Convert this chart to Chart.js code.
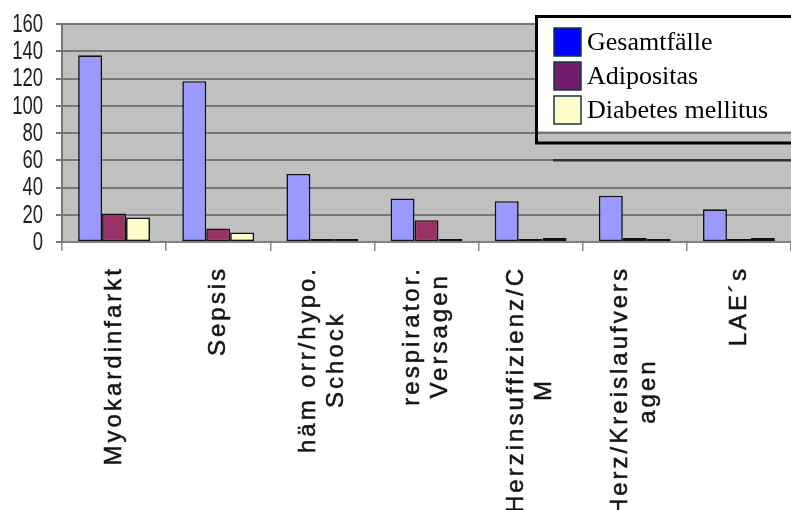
<!DOCTYPE html>
<html lang="de">
<head>
<meta charset="utf-8">
<title>Todesursachen</title>
<script src="https://cdn.jsdelivr.net/npm/chart.js@4.4.1/dist/chart.umd.min.js"></script>
<style>
    html, body { margin: 0; padding: 0; background: #fff; overflow: hidden; }
</style>
</head>
<body>
<canvas id="chart" width="791" height="510"></canvas>
<script>
// categories, one entry per label line
const categories = [
    ['Myokardinfarkt'],
    ['Sepsis'],
    ['häm orr/hypo.', 'Schock'],
    ['respirator.', 'Versagen'],
    ['Herzinsuffizienz/C', 'M'],
    ['Herz/Kreislaufvers', 'agen'],
    ['LAE´s']
];
const seriesNames = ['Gesamtfälle', 'Adipositas', 'Diabetes mellitus'];
const gesamt = [137, 118, 50, 32, 30, 34, 24];
const adipositas = [21, 10, 0, 16, 0, 3, 0];
const diabetes = [18, 7, 0, 0, 3, 0, 3];
const yTicks = [0, 20, 40, 60, 80, 100, 120, 140, 160];

const barColors = ['#9999ff', '#993366', '#ffffcc'];
const legendColors = ['#0000ff', '#731d6e', '#ffffcc'];

// grey plot background
const plotBg = {
    id: 'plotBg',
    beforeDraw(chart) {
        const { ctx, chartArea: a } = chart;
        ctx.save();
        ctx.fillStyle = '#c0c0c0';
        ctx.fillRect(a.left, a.top, a.right - a.left, a.bottom - a.top);
        ctx.restore();
    }
};

// condensed value labels on the y axis
const valueLabels = {
    id: 'valueLabels',
    afterDraw(chart) {
        const ctx = chart.ctx;
        const ys = chart.scales.y;
        ctx.save();
        ctx.font = '25px "Liberation Sans", Arial, sans-serif';
        ctx.fillStyle = '#1e1e1e';
        ctx.textAlign = 'right';
        ctx.textBaseline = 'middle';
        yTicks.forEach(v => {
            ctx.save();
            ctx.translate(43, ys.getPixelForValue(v) + 1);
            ctx.scale(0.74, 1);
            ctx.fillText(String(v), 0, 0);
            ctx.restore();
        });
        ctx.restore();
    }
};

// rotated category labels, lines centred on each other
const catLabels = {
    id: 'catLabels',
    afterDraw(chart) {
        const ctx = chart.ctx;
        const xs = chart.scales.x;
        ctx.save();
        ctx.font = '24px "Liberation Sans", Arial, sans-serif';
        ctx.fillStyle = '#141414';
        ctx.strokeStyle = '#141414';
        ctx.lineWidth = 0.5;
        ctx.letterSpacing = '3px';
        ctx.textAlign = 'center';
        ctx.textBaseline = 'middle';
        categories.forEach((lines, i) => {
            const x = xs.getPixelForValue(i);
            const w = Math.max(...lines.map(l => ctx.measureText(l).width));
            lines.forEach((line, j) => {
                ctx.save();
                ctx.translate(x + (j - (lines.length - 1) / 2) * 28, xs.top + 24 + w / 2);
                ctx.rotate(-Math.PI / 2);
                ctx.fillText(line, 0, 0);
                ctx.strokeText(line, 0, 0);
                ctx.restore();
            });
        });
        ctx.restore();
    }
};

// boxed legend in the upper right corner
const boxLegend = {
    id: 'boxLegend',
    afterDraw(chart) {
        const ctx = chart.ctx;
        const ys = chart.scales.y;
        const left = 535, top = 15, right = chart.width + 40;
        ctx.save();
        // darker stretch of the 60 line under the legend
        const y60 = ys.getPixelForValue(60);
        ctx.strokeStyle = '#303030';
        ctx.lineWidth = 2.5;
        ctx.beginPath();
        ctx.moveTo(left + 18, y60);
        ctx.lineTo(chart.width, y60);
        ctx.stroke();

        ctx.fillStyle = '#fff';
        ctx.fillRect(left, top, right - left, 116);
        ctx.strokeStyle = '#000';
        ctx.lineWidth = 3;
        ctx.beginPath();
        ctx.moveTo(right, top + 1.5);
        ctx.lineTo(left + 1.5, top + 1.5);
        ctx.lineTo(left + 1.5, top + 128);
        ctx.lineTo(right, top + 128);
        ctx.stroke();

        ctx.font = '26px "Liberation Serif", "Times New Roman", serif';
        ctx.textBaseline = 'middle';
        ctx.textAlign = 'left';
        seriesNames.forEach((name, i) => {
            const sy = top + 13 + i * 34;
            ctx.fillStyle = legendColors[i];
            ctx.fillRect(left + 19, sy, 27, 28);
            ctx.strokeStyle = '#1c3344';
            ctx.lineWidth = 1.5;
            ctx.strokeRect(left + 19, sy, 27, 28);
            ctx.fillStyle = '#000';
            ctx.fillText(name, left + 52, sy + 15);
        });
        ctx.restore();
    }
};

const datasets = [gesamt, adipositas, diabetes].map((values, i) => ({
    label: seriesNames[i],
    data: values,
    backgroundColor: barColors[i],
    borderColor: '#111',
    borderWidth: 1.6,
    borderSkipped: false,
    minBarLength: 3,
    categoryPercentage: 0.69,
    barPercentage: 1.0
}));

new Chart(document.getElementById('chart'), {
    type: 'bar',
    data: {
        labels: categories.map(l => l.join(' ')),
        datasets: datasets
    },
    options: {
        responsive: false,
        animation: false,
        devicePixelRatio: 1,
        layout: { padding: { top: 24, right: 0, bottom: 0, left: 0 } },
        plugins: {
            legend: { display: false },
            tooltip: { enabled: false }
        },
        scales: {
            x: {
                grid: {
                    offset: true,
                    drawOnChartArea: false,
                    drawTicks: true,
                    tickLength: 9,
                    color: '#8a8a8a',
                    lineWidth: 1.5
                },
                border: { color: '#808080', width: 2 },
                ticks: { display: false },
                afterFit: s => { s.height = 268; }
            },
            y: {
                min: 0,
                max: 160,
                afterBuildTicks: s => { s.ticks = yTicks.map(v => ({ value: v })); },
                grid: {
                    color: '#777',
                    lineWidth: 2,
                    tickLength: 6
                },
                border: { color: '#777', width: 2 },
                ticks: { display: false },
                afterFit: s => { s.width = 62; }
            }
        }
    },
    plugins: [plotBg, valueLabels, catLabels, boxLegend]
});
</script>
</body>
</html>
